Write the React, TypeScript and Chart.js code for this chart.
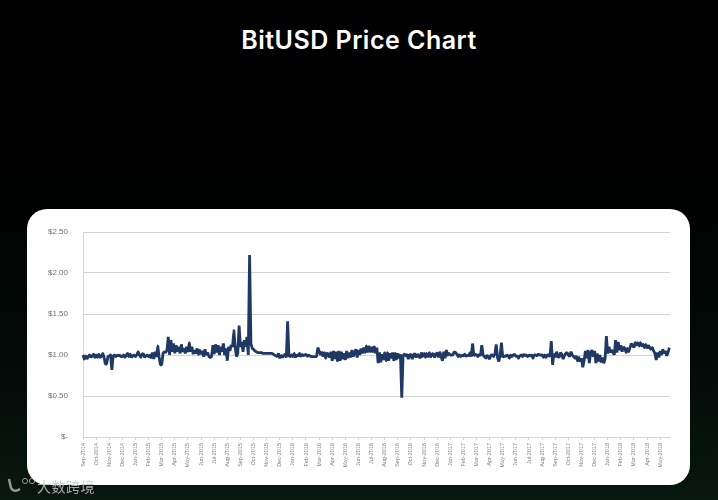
import React, { useEffect, useRef } from "react";
import { Chart, registerables } from "chart.js";

Chart.register(...registerables);

const title = "BitUSD Price Chart";
const watermark = "大数跨境";
const monthLabels = [
  "Sep-2014","Oct-2014","Nov-2014","Dec-2014","Jan-2015","Feb-2015","Mar-2015","Apr-2015","May-2015",
  "Jun-2015","Jul-2015","Aug-2015","Sep-2015","Oct-2015","Nov-2015","Dec-2015","Jan-2016","Feb-2016",
  "Mar-2016","Apr-2016","May-2016","Jun-2016","Jul-2016","Aug-2016","Sep-2016","Oct-2016","Nov-2016",
  "Dec-2016","Jan-2017","Feb-2017","Mar-2017","Apr-2017","May-2017","Jun-2017","Jul-2017","Aug-2017",
  "Sep-2017","Oct-2017","Nov-2017","Dec-2017","Jan-2018","Feb-2018","Mar-2018","Apr-2018","May-2018",
];
const yTicks: Record<string, string> = { "0": "$-", "0.5": "$0.50", "1": "$1.00", "1.5": "$1.50", "2": "$2.00", "2.5": "$2.50" };

// Ten readings per month.
const y2014 = [
  [1.0,0.95,0.99,0.95,0.98,1.0,0.97,0.99,1.01,0.97],
  [1.0,0.97,1.01,0.97,0.98,1.02,0.98,0.89,0.89,0.98],
  [0.99,1.0,0.82,0.99,1.0,0.98,1.0,0.99,1.0,0.98],
  [0.98,1.0,0.97,1.0,1.02,0.98,1.01,0.97,0.99,1.0],
];
const y2015a = [
  [0.98,1.0,1.04,1.0,0.97,1.01,1.02,0.97,0.99,1.0],
  [0.98,1.0,0.96,1.03,0.95,1.04,0.98,1.11,0.98,0.88],
  [0.88,1.02,1.04,1.03,1.06,1.22,1.0,1.18,1.04,1.14],
  [1.02,1.12,1.04,1.1,1.02,1.13,1.04,1.08,1.02,1.1],
  [1.04,1.15,1.04,1.1,1.01,1.06,1.02,1.08,1.01,1.06],
  [1.01,1.05,0.98,1.07,1.0,1.03,0.98,0.97,0.98,1.12],
];
const y2015b = [
  [1.01,1.13,1.03,1.12,1.0,1.1,1.04,1.14,1.0,1.08],
  [0.93,1.1,1.05,1.12,1.1,1.3,1.1,0.98,1.02,1.36],
  [1.1,1.16,1.04,1.18,1.1,1.22,1.0,2.22,1.14,1.08],
  [1.07,1.05,1.04,1.03,1.03,1.03,1.03,1.02,1.02,1.02],
  [1.02,1.02,1.02,1.02,1.02,1.01,1.0,0.99,0.98,1.02],
  [0.96,1.0,0.97,0.99,1.01,0.97,1.41,0.99,0.98,1.0],
];
const y2016a = [
  [0.98,1.02,0.97,1.0,0.99,1.02,0.98,1.01,0.99,1.0],
  [1.01,0.98,1.0,0.99,0.98,0.98,0.98,0.98,0.98,1.09],
  [1.05,1.0,1.04,0.98,1.03,0.96,1.03,1.0,0.97,1.04],
  [0.93,1.05,0.95,1.04,0.92,1.05,0.93,1.04,0.95,1.02],
  [0.94,1.05,0.96,1.03,0.97,1.06,0.98,1.03,1.07,0.97],
  [1.06,1.0,1.08,1.02,1.09,1.03,1.11,1.03,1.1,1.04],
  [1.1,1.03,1.11,1.02,1.09,0.9,1.03,0.91,1.01,0.94],
  [1.03,0.93,1.03,0.93,1.02,0.96,1.03,0.93,1.02,0.95],
];
const y2016b = [
  [1.02,0.96,1.01,0.48,0.99,1.01,0.99,1.01,0.95,1.0],
  [1.01,0.95,1.0,1.02,0.97,1.01,0.99,0.96,1.03,0.98],
  [1.02,0.97,1.02,0.98,1.03,0.97,1.01,1.02,0.97,1.01],
  [1.03,0.97,1.04,0.98,0.93,1.04,0.96,1.06,1.0,1.02],
  [1.0,1.0,1.0,1.04,1.03,1.01,0.98,1.0,0.98,1.0],
  [0.99,1.01,0.98,1.0,0.99,1.03,0.98,1.14,0.99,1.01],
  [1.0,0.98,1.01,0.99,1.12,1.0,0.98,0.96,1.0,0.97],
];
const y2017a = [
  [0.95,1.0,1.0,0.98,1.01,1.13,0.97,0.92,1.0,1.15],
  [0.97,0.99,0.98,1.0,0.99,0.96,1.0,0.98,1.0,1.01],
  [0.98,0.99,0.96,0.99,1.0,0.98,1.01,0.99,1.0,0.98],
  [1.0,0.99,1.0,0.96,1.0,1.0,0.99,1.01,1.0,1.0],
  [1.0,0.97,1.0,0.97,1.0,1.0,0.98,1.17,0.88,1.02],
  [0.97,1.04,0.98,0.97,1.03,1.01,0.95,0.99,1.02,1.03],
  [1.0,0.98,1.04,1.0,0.98,0.96,0.99,0.93,0.97,0.92],
];
const y2017b = [
  [0.96,0.85,0.93,1.05,0.96,1.06,0.9,1.03,1.06,0.98],
  [1.05,0.9,1.02,0.92,1.0,0.91,0.97,0.9,0.95,1.23],
  [1.02,1.1,1.03,1.06,1.04,1.0,1.18,1.03,1.16,1.06],
  [1.12,1.04,1.1,1.08,1.03,1.08,1.04,1.09,1.14,1.12],
  [1.09,1.15,1.12,1.15,1.11,1.15,1.11,1.13,1.09,1.13],
];
const y2018 = [
  [1.08,1.12,1.09,1.07,1.09,1.05,1.02,0.94,1.03,0.97],
];
const y2018End = [1.05, 1.0, 1.07, 1.02, 1.05, 0.99, 1.03, 1.09];

const months = [...y2014, ...y2015a, ...y2015b, ...y2016a, ...y2016b, ...y2017a, ...y2017b, ...y2018, y2018End];

export default function App() {
  const ref = useRef<HTMLCanvasElement>(null);

  useEffect(() => {
    const points: { x: number; y: number }[] = [];
    months.forEach((vals, m) => {
      vals.forEach((y, i) => points.push({ x: m + i * 0.1, y }));
    });
    const chart = new Chart(ref.current!, {
      type: "line",
      data: {
        datasets: [{
          data: points,
          borderColor: "#1f3864",
          borderWidth: 2.8,
          pointRadius: 0,
          tension: 0.001,
          borderJoinStyle: "bevel",
          clip: false,
        }],
      },
      options: {
        animation: false,
        responsive: false,
        parsing: false,
        normalized: true,
        layout: { padding: { left: 0, top: 23, right: 20, bottom: 0 } },
        plugins: { legend: { display: false }, title: { display: false }, tooltip: { enabled: false } },
        scales: {
          x: {
            type: "linear",
            min: 0,
            max: 44.75,
            afterBuildTicks: (axis: any) => {
              axis.ticks = monthLabels.map((_, i) => ({ value: i }));
            },
            afterFit: (axis: any) => { axis.height = 48; },
            grid: { display: true, drawOnChartArea: false, drawTicks: true, tickLength: 3, color: "#d4d4d4", lineWidth: 1 },
            border: { color: "#d4d4d4", width: 1 },
            ticks: {
              autoSkip: false,
              maxRotation: 90,
              minRotation: 90,
              padding: 3,
              color: "#7f7f7f",
              font: { family: "Liberation Sans", size: 5.5 },
              callback: (v: any) => monthLabels[v as number] ?? "",
            },
          },
          y: {
            min: 0,
            max: 2.5,
            afterBuildTicks: (axis: any) => {
              axis.ticks = Object.keys(yTicks).map((k) => ({ value: Number(k) }));
            },
            afterFit: (axis: any) => { axis.width = 56; },
            grid: { color: "#d4d4d4", lineWidth: 1, drawTicks: false },
            border: { color: "#d4d4d4", width: 1 },
            ticks: {
              padding: 15,
              color: "#6f6f6f",
              font: { family: "Liberation Sans", size: 8 },
              callback: (v: any) => yTicks[String(v)] ?? "",
            },
          },
        },
      },
    });
    return () => chart.destroy();
  }, []);

  return (
    <div style={{
      position: "fixed", inset: 0, overflow: "hidden",
      background: "linear-gradient(180deg, #000000 0%, #000000 30%, #020806 65%, #08170f 100%)",
    }}>
      <div style={{
        position: "absolute", left: 0, right: 0, top: 25, textAlign: "center",
        color: "#ffffff", fontFamily: "Inter", fontWeight: 600, fontSize: 25, lineHeight: "30px", letterSpacing: 0.5,
      }}>{title}</div>
      <div style={{
        position: "absolute", left: 27, top: 209, width: 663, height: 276,
        background: "#ffffff", borderRadius: 20,
      }}>
        <canvas ref={ref} width={663} height={276} style={{ display: "block" }} />
      </div>
      <svg width="32" height="20" style={{ position: "absolute", left: 5, top: 476, opacity: 0.75 }}>
        <path d="M4 3 L6 12 Q9 17 15 13" fill="none" stroke="#bfc6c3" strokeWidth="2.5" />
        <circle cx="20" cy="5" r="2.6" fill="none" stroke="#bfc6c3" />
        <circle cx="27" cy="5" r="2.6" fill="none" stroke="#bfc6c3" />
      </svg>
      <div style={{
        position: "absolute", left: 37, top: 477, color: "#c3c9c6", opacity: 0.85,
        fontFamily: "Noto Sans CJK SC", fontSize: 14, lineHeight: "18px", letterSpacing: 0.5,
      }}>{watermark}</div>
    </div>
  );
}
